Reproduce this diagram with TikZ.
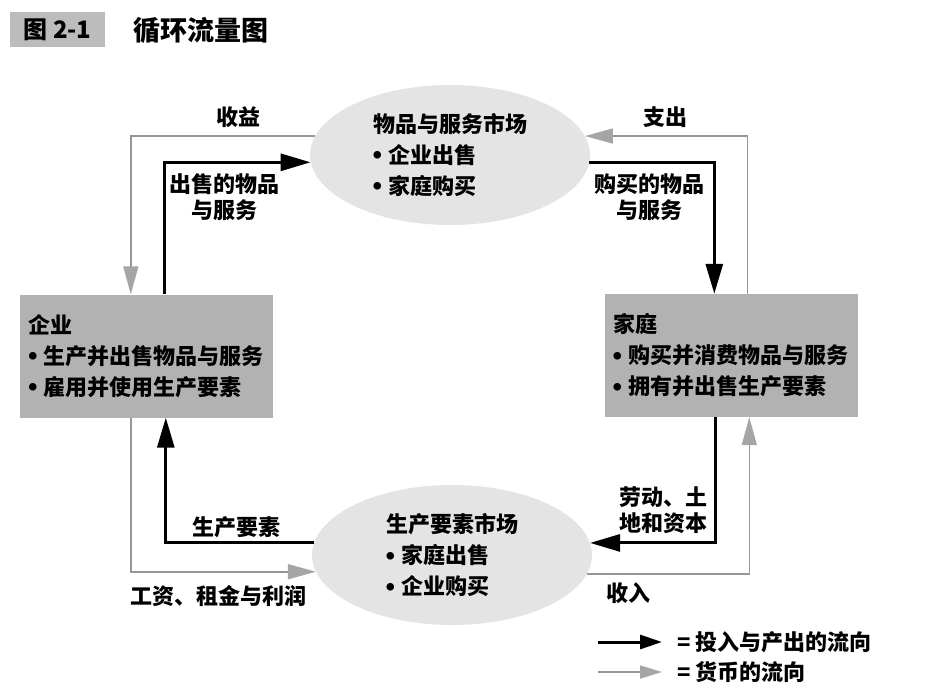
\documentclass[tikz,border=0pt]{standalone}
\usepackage{fontspec}
\setmainfont{Noto Sans CJK SC}
\usetikzlibrary{shapes.geometric,arrows.meta}

\definecolor{agentgray}{RGB}{178,178,178}
\definecolor{marketgray}{RGB}{228,228,228}
\definecolor{titlegray}{RGB}{188,188,188}
\definecolor{moneygray}{RGB}{150,150,150}
\definecolor{moneytip}{RGB}{165,165,165}

\newcommand{\itm}{\makebox[15pt][l]{\raisebox{4.5pt}{\fontsize{8.5}{8.5}\selectfont ●}}}

\begin{document}
\begin{tikzpicture}[x=1pt, y=-1pt, font=\fontsize{22}{31}\selectfont\bfseries,
  market/.style={ellipse, fill=marketgray, minimum width=280pt, minimum height=140pt, inner sep=0pt, align=left},
  agent/.style={rectangle, fill=agentgray, minimum width=253pt, minimum height=123pt, inner sep=0pt, text width=236pt, align=left},
  lbl/.style={inner sep=0pt, align=center, font=\fontsize{22}{26}\selectfont\bfseries},
  realflow/.style={line width=3pt, -{Triangle[length=30pt, width=17pt]}},
  moneyflow/.style={draw=moneygray, line width=1.6pt, -{Triangle[length=28pt, width=15pt, color=moneytip]}},
  keyreal/.style={line width=3pt, -{Triangle[length=22pt, width=14pt]}},
  keymoney/.style={draw=moneygray, line width=1.6pt, -{Triangle[length=22pt, width=13pt, color=moneytip]}}]
  \useasboundingbox (0,0) rectangle (935,691);

  \node[fill=titlegray, minimum width=95pt, minimum height=35pt, inner sep=0pt, font=\fontsize{24}{24}\selectfont\bfseries] (fig) at (57.5,29.5) {图 2-1};
  \node[anchor=west, inner sep=0pt, font=\fontsize{27}{27}\selectfont\bfseries] (figname) at (133,30) {循环流量图};

  \node[market] (goods) at (450,155) {物品与服务市场\\\itm 企业出售\\\itm 家庭购买};
  \node[market] (factors) at (452,555) {生产要素市场\\\itm 家庭出售\\\itm 企业购买};
  \node[agent] (firms) at (146.5,356) {企业\\\itm 生产并出售物品与服务\\\itm 雇用并使用生产要素};
  \node[agent] (homes) at (731,355.5) {家庭\\\itm 购买并消费物品与服务\\\itm 拥有并出售生产要素};

  \draw[moneyflow] (goods.172) -| ([xshift=111pt]firms.north west);
  \draw[realflow] ([xshift=145pt]firms.north west) |- (goods.183);
  \draw[moneyflow] ([xshift=143pt]homes.north west) |- (goods.8);
  \draw[realflow] (goods.357) -| ([xshift=110pt]homes.north west);
  \draw[realflow] ([xshift=111pt]homes.south west) |- (factors.5);
  \draw[moneyflow] (factors.352) -| ([xshift=145pt]homes.south west);
  \draw[realflow] (factors.175) -| ([xshift=146pt]firms.south west);
  \draw[moneyflow] ([xshift=111pt]firms.south west) |- (factors.187);

  \node[lbl] (revenue) at (238,117) {收益};
  \node[lbl] (sold) at (224,197) {出售的物品\\与服务};
  \node[lbl] (spending) at (665,117) {支出};
  \node[lbl] (bought) at (649,197) {购买的物品\\与服务};
  \node[lbl] (inputs) at (663,510) {劳动、土\\地和资本};
  \node[lbl] (income) at (628,593) {收入};
  \node[lbl] (factorsin) at (236,527) {生产要素};
  \node[lbl] (wages) at (218,596) {工资、租金与利润};

  \node[anchor=west, inner sep=0pt] (keyA) at (677,642) {= 投入与产出的流向};
  \node[anchor=west, inner sep=0pt] (keyB) at (677,672) {= 货币的流向};
  \coordinate (keyAtail) at (598,642);
  \coordinate (keyBtail) at (598,672);
  \draw[keyreal] (keyAtail) -- ([xshift=-15pt]keyA.west);
  \draw[keymoney] (keyBtail) -- ([xshift=-15pt]keyB.west);
\end{tikzpicture}
\end{document}
